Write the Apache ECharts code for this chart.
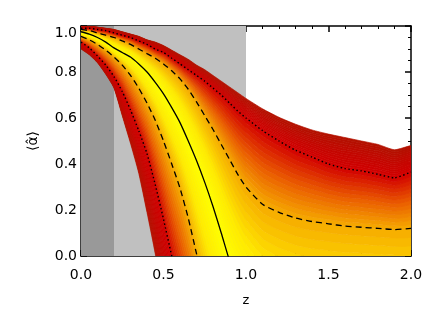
<!DOCTYPE html>
<html><head><meta charset="utf-8">
<script src="https://cdn.jsdelivr.net/npm/echarts@6/dist/echarts.min.js"></script>
<style>html,body{margin:0;padding:0;background:#fff}#c{width:436px;height:312px}</style>
</head><body><div id="c"></div>
<script>
// redshift grid (x values)
const zVals = [0,0.05,0.1,0.15,0.2,0.25,0.3,0.35,0.4,0.45,0.5,0.55,0.6,0.65,0.7,0.75,0.8,0.85,0.9,0.95,1.0,1.1,1.2,1.3,1.4,1.5,1.6,1.7,1.8,1.9,2.0];
// envelope / percentile curves of <alpha-hat>
const upperEdge   = [1.0,1.0,0.995,0.99,0.985,0.975,0.965,0.955,0.94,0.93,0.915,0.895,0.875,0.855,0.83,0.81,0.785,0.76,0.735,0.71,0.685,0.64,0.603,0.573,0.548,0.53,0.515,0.50,0.485,0.462,0.48];
const upperDotted = [0.99,0.99,0.985,0.98,0.97,0.96,0.95,0.935,0.92,0.90,0.885,0.86,0.835,0.81,0.785,0.76,0.73,0.70,0.665,0.63,0.60,0.545,0.50,0.46,0.43,0.40,0.38,0.37,0.355,0.34,0.365];
const upperDashed = [0.985,0.98,0.97,0.96,0.95,0.935,0.92,0.90,0.88,0.86,0.835,0.805,0.77,0.725,0.67,0.61,0.55,0.485,0.42,0.355,0.30,0.225,0.19,0.165,0.15,0.14,0.13,0.125,0.12,0.115,0.12];
const median      = [0.975,0.965,0.95,0.93,0.905,0.885,0.865,0.835,0.80,0.755,0.705,0.645,0.58,0.50,0.415,0.32,0.215,0.10,-0.02,-0.12,-0.20,-0.30,-0.35,-0.38,-0.40,-0.40,-0.40,-0.40,-0.40,-0.40,-0.40];
const lowerDashed = [0.955,0.94,0.92,0.895,0.865,0.83,0.785,0.73,0.665,0.59,0.50,0.40,0.295,0.165,0.01,-0.15,-0.30,-0.45,-0.58,-0.68,-0.75,-0.85,-0.9,-0.9,-0.9,-0.9,-0.9,-0.9,-0.9,-0.9,-0.9];
const lowerDotted = [0.93,0.905,0.87,0.83,0.78,0.715,0.635,0.545,0.445,0.31,0.16,0.0,-0.15,-0.3,-0.45,-0.6,-0.75,-0.85,-0.95,-1,-1,-1,-1,-1,-1,-1,-1,-1,-1,-1,-1];
const lowerEdge   = [0.90,0.875,0.84,0.79,0.73,0.61,0.49,0.36,0.19,0.01,-0.2,-0.4,-0.6,-0.8,-1,-1,-1,-1,-1,-1,-1,-1,-1,-1,-1,-1,-1,-1,-1,-1,-1];
// shaded redshift ranges
const greyRanges = [[0,0.2],[0.2,1.0]];
const greyColors = ['#999999','#c0c0c0'];

const curves = [lowerEdge, lowerDotted, lowerDashed, median, upperDashed, upperDotted, upperEdge];
// distance level of each curve from the median (0 median, 1 dashed, 2 dotted, 3 edge)
const curveLevel = [3,2,1,0,1,2,3];
const cmap = [[0,[255,255,0]],[0.5,[255,234,0]],[1,[246,172,0]],[1.5,[234,92,0]],[2,[210,0,0]],[2.5,[196,6,0]],[3,[178,18,0]]];
const SUB = 14;
function colorAt(d){
  for(let k=0;k<cmap.length-1;k++){
    const a=cmap[k], b=cmap[k+1];
    if(d<=b[0]){const t=(d-a[0])/(b[0]-a[0]);return 'rgb('+a[1].map((v,i)=>Math.round(v+(b[1][i]-v)*t)).join(',')+')';}
  }
  return 'rgb('+cmap[cmap.length-1][1].join(',')+')';
}
function pairs(arr){return zVals.map((z,i)=>[z,arr[i]]);}

function renderBand(params, api){
  const children=[];
  for(let b=0;b<curves.length-1;b++){
    const lo=curves[b], hi=curves[b+1];
    for(let s=0;s<SUB;s++){
      const t0=s/SUB, t1=(s+1)/SUB;
      const pts=[];
      for(let i=0;i<zVals.length;i++){ pts.push(api.coord([zVals[i], lo[i]+(hi[i]-lo[i])*t1])); }
      for(let i=zVals.length-1;i>=0;i--){ pts.push(api.coord([zVals[i], lo[i]+(hi[i]-lo[i])*t0])); }
      const tm=(t0+t1)/2;
      const col=colorAt(curveLevel[b]+(curveLevel[b+1]-curveLevel[b])*tm);
      children.push({type:'polygon',shape:{points:pts,smooth:0.2},style:{fill:col,stroke:col,lineWidth:0.7}});
    }
  }
  return {type:'group',children};
}
function renderGrey(params, api){
  const p0=api.coord([api.value(0),1]);
  const p1=api.coord([api.value(1),0]);
  return {type:'rect',shape:{x:p0[0],y:p0[1],width:p1[0]-p0[0],height:p1[1]-p0[1]},style:{fill:greyColors[params.dataIndex]}};
}

const font='DejaVu Sans';
const axisCommon = {
  axisLine:{show:true,onZero:false,lineStyle:{color:'#000',width:1.5}},
  axisTick:{show:true,inside:true,length:6,lineStyle:{color:'#000',width:1.5}},
  splitLine:{show:false}, minorSplitLine:{show:false}
};
const chart = echarts.init(document.getElementById('c'));
chart.setOption({
  animation:false,
  backgroundColor:'#fff',
  grid:{left:81,right:25,top:26,bottom:53},
  xAxis:[
    Object.assign({type:'value',min:0,max:2,interval:0.5,position:'bottom',
      minorTick:{show:true,splitNumber:5,length:3,lineStyle:{color:'#000',width:1}},
      axisLabel:{formatter:v=>v.toFixed(1),color:'#000',fontSize:14,fontFamily:font,margin:12},
      name:'z',nameLocation:'middle',nameGap:38,nameTextStyle:{color:'#000',fontSize:13,fontFamily:font}},axisCommon),
    Object.assign({type:'value',min:0,max:2,interval:0.5,position:'top',
      minorTick:{show:true,splitNumber:5,length:3,lineStyle:{color:'#000',width:1}},
      axisLabel:{show:false}},axisCommon)
  ],
  yAxis:[
    Object.assign({type:'value',min:0,max:1,interval:0.2,position:'left',
      minorTick:{show:true,splitNumber:4,length:3,lineStyle:{color:'#000',width:1}},
      axisLabel:{formatter:v=>v.toFixed(1),color:'#000',fontSize:14,fontFamily:font,margin:4,
        verticalAlignMaxLabel:'top',verticalAlignMinLabel:'middle'},
      name:'\u27E8\u03B1\u0302\u27E9',nameLocation:'middle',nameGap:41,nameRotate:90,
      nameTextStyle:{color:'#000',fontSize:14,fontFamily:font}},axisCommon),
    Object.assign({type:'value',min:0,max:1,interval:0.2,position:'right',
      minorTick:{show:true,splitNumber:4,length:3,lineStyle:{color:'#000',width:1}},
      axisLabel:{show:false}},axisCommon)
  ],
  series:[
    {type:'custom',renderItem:renderGrey,data:greyRanges,encode:{x:[0,1]},z:1,silent:true,clip:true},
    {type:'custom',renderItem:renderBand,data:[[0,0]],z:2,silent:true,clip:true},
    {type:'line',data:pairs(upperDotted),smooth:0.2,showSymbol:false,z:5,silent:true,lineStyle:{color:'#000',width:1.4,type:[1.5,2.5]}},
    {type:'line',data:pairs(upperDashed),smooth:0.2,showSymbol:false,z:5,silent:true,lineStyle:{color:'#000',width:1.3,type:[6,4]}},
    {type:'line',data:pairs(median),smooth:0.2,showSymbol:false,z:5,silent:true,lineStyle:{color:'#000',width:1.3,type:'solid'}},
    {type:'line',data:pairs(lowerDashed),smooth:0.2,showSymbol:false,z:5,silent:true,lineStyle:{color:'#000',width:1.3,type:[6,4]}},
    {type:'line',data:pairs(lowerDotted),smooth:0.2,showSymbol:false,z:5,silent:true,lineStyle:{color:'#000',width:1.4,type:[1.5,2.5]}}
  ]
});
</script></body></html>
